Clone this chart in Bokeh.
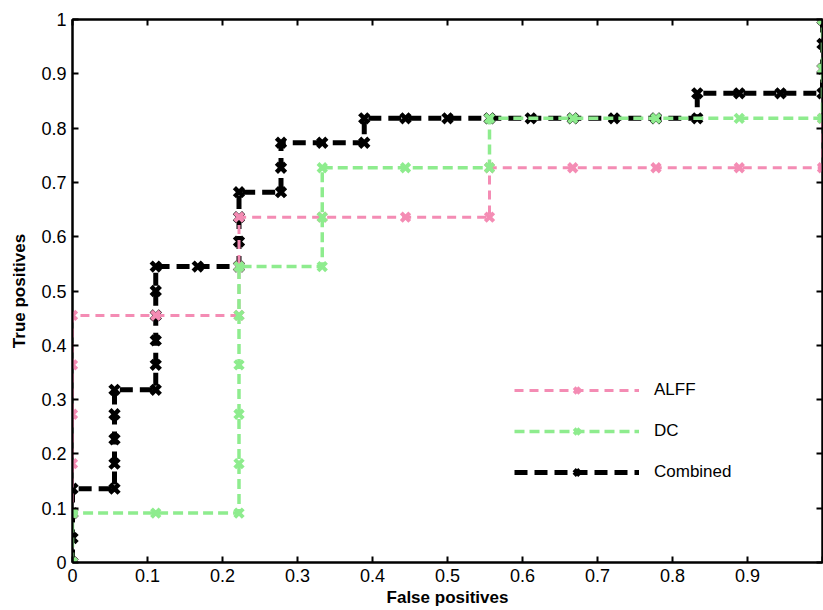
from bokeh.plotting import figure
from bokeh.models import LinearAxis, FixedTicker, Legend, LegendItem, Range1d
from bokeh.embed import file_html
from bokeh.resources import INLINE

# ---- data ----
alff_x = [0, 0, 0, 0, 0, 0, 0.111, 0.222, 0.222, 0.222, 0.333, 0.444, 0.556, 0.556,
          0.667, 0.778, 0.889, 1.0, 1.0, 1.0, 1.0]
alff_y = [0, 0.091, 0.182, 0.273, 0.364, 0.455, 0.455, 0.455, 0.545, 0.636, 0.636, 0.636,
          0.636, 0.727, 0.727, 0.727, 0.727, 0.727, 0.818, 0.909, 1.0]

dc_x = [0, 0, 0.111, 0.222, 0.222, 0.222, 0.222, 0.222, 0.222, 0.333, 0.333, 0.333, 0.444,
        0.556, 0.556, 0.667, 0.778, 0.889, 1.0, 1.0, 1.0]
dc_y = [0, 0.091, 0.091, 0.091, 0.182, 0.273, 0.364, 0.455, 0.545, 0.545, 0.636, 0.727,
        0.727, 0.727, 0.818, 0.818, 0.818, 0.818, 0.818, 0.909, 1.0]

comb_x = [0, 0, 0, 0,
          0.056, 0.056, 0.056, 0.056, 0.056,
          0.111, 0.111, 0.111, 0.111, 0.111, 0.111,
          0.167,
          0.222, 0.222, 0.222, 0.222,
          0.278, 0.278, 0.278,
          0.333,
          0.389, 0.389,
          0.444, 0.5, 0.556, 0.611, 0.667, 0.722, 0.778, 0.833,
          0.833,
          0.889, 0.944, 1.0,
          1.0, 1.0, 1.0]
comb_y = [0, 0.045, 0.091, 0.136,
          0.136, 0.182, 0.227, 0.273, 0.318,
          0.318, 0.364, 0.409, 0.455, 0.5, 0.545,
          0.545,
          0.545, 0.591, 0.636, 0.682,
          0.682, 0.727, 0.773,
          0.773,
          0.773, 0.818,
          0.818, 0.818, 0.818, 0.818, 0.818, 0.818, 0.818, 0.818,
          0.864,
          0.864, 0.864, 0.864,
          0.909, 0.955, 1.0]

series_names = ["ALFF", "DC", "Combined"]

x_ticks = [0, 0.1, 0.2, 0.3, 0.4, 0.5, 0.6, 0.7, 0.8, 0.9, 1]
x_tick_labels = ["0", "0.1", "0.2", "0.3", "0.4", "0.5", "0.6", "0.7", "0.8", "0.9", ""]
y_ticks = [0, 0.1, 0.2, 0.3, 0.4, 0.5, 0.6, 0.7, 0.8, 0.9, 1]
y_tick_labels = ["0", "0.1", "0.2", "0.3", "0.4", "0.5", "0.6", "0.7", "0.8", "0.9", "1"]

PINK = "#f48cb4"
GREEN = "#8eec8e"
BLACK = "#000000"
FONT = "Liberation Sans"

p = figure(width=823, height=610, output_backend="svg", toolbar_location=None,
           x_range=Range1d(0, 1), y_range=Range1d(0, 1),
           min_border_left=72, min_border_top=19, min_border_right=1, min_border_bottom=48)
p.background_fill_color = "white"
p.border_fill_color = "white"
p.grid.visible = False
p.outline_line_color = "black"
p.outline_line_width = 2

def style_axis(ax, ticks, labels, show_labels=True):
    ax.ticker = FixedTicker(ticks=ticks)
    if show_labels:
        ax.major_label_overrides = {t: l for t, l in zip(ticks, labels)}
    else:
        ax.major_label_overrides = {t: "" for t in ticks}
    ax.minor_tick_line_color = None
    ax.major_tick_in = 6
    ax.major_tick_out = 0
    ax.major_tick_line_width = 2
    ax.major_tick_line_color = "black"
    ax.axis_line_color = "black"
    ax.axis_line_width = 2
    ax.major_label_text_font = FONT
    ax.major_label_text_font_size = "18px"
    ax.major_label_text_color = "black"

style_axis(p.xaxis[0], x_ticks, x_tick_labels)
style_axis(p.yaxis[0], y_ticks, y_tick_labels)
p.xaxis[0].major_label_standoff = 6
p.yaxis[0].major_label_standoff = 6
p.xaxis.axis_label = "False positives"
p.yaxis.axis_label = "True positives"
for ax in (p.xaxis[0], p.yaxis[0]):
    ax.axis_label_text_font = FONT
    ax.axis_label_text_font_style = "bold"
    ax.axis_label_text_font_size = "17px"
    ax.axis_label_text_color = "black"
p.xaxis[0].axis_label_standoff = 3
p.yaxis[0].axis_label_standoff = 9

top_ax = LinearAxis()
style_axis(top_ax, x_ticks, x_tick_labels, show_labels=False)
top_ax.major_label_standoff = 0
p.add_layout(top_ax, "above")
right_ax = LinearAxis()
style_axis(right_ax, y_ticks, y_tick_labels, show_labels=False)
right_ax.major_label_standoff = 0
p.add_layout(right_ax, "right")

# draw order: combined, ALFF, DC
cl = p.line(comb_x, comb_y, line_color=BLACK, line_width=5, line_dash="13 7")
cs = p.scatter(comb_x, comb_y, marker="x", size=13, line_color=BLACK, line_width=4.5)
al = p.line(alff_x, alff_y, line_color=PINK, line_width=3, line_dash="9 6")
as_ = p.scatter(alff_x, alff_y, marker="x", size=12, line_color=PINK, line_width=4)
dl = p.line(dc_x, dc_y, line_color=GREEN, line_width=3.5, line_dash="10 5")
ds = p.scatter(dc_x, dc_y, marker="x", size=12, line_color=GREEN, line_width=4)

legend = Legend(items=[
    LegendItem(label=series_names[0], renderers=[al, as_]),
    LegendItem(label=series_names[1], renderers=[dl, ds]),
    LegendItem(label=series_names[2], renderers=[cl, cs]),
], location=(442, 80))
legend.border_line_color = None
legend.background_fill_alpha = 0
legend.glyph_width = 125
legend.glyph_height = 20
legend.label_height = 20
legend.spacing = 21
legend.padding = 5
legend.margin = 0
legend.label_standoff = 15
legend.label_text_font = FONT
legend.label_text_font_size = "17px"
legend.label_text_color = "black"
p.add_layout(legend)

open("out.html", "w").write(file_html(p, INLINE))
